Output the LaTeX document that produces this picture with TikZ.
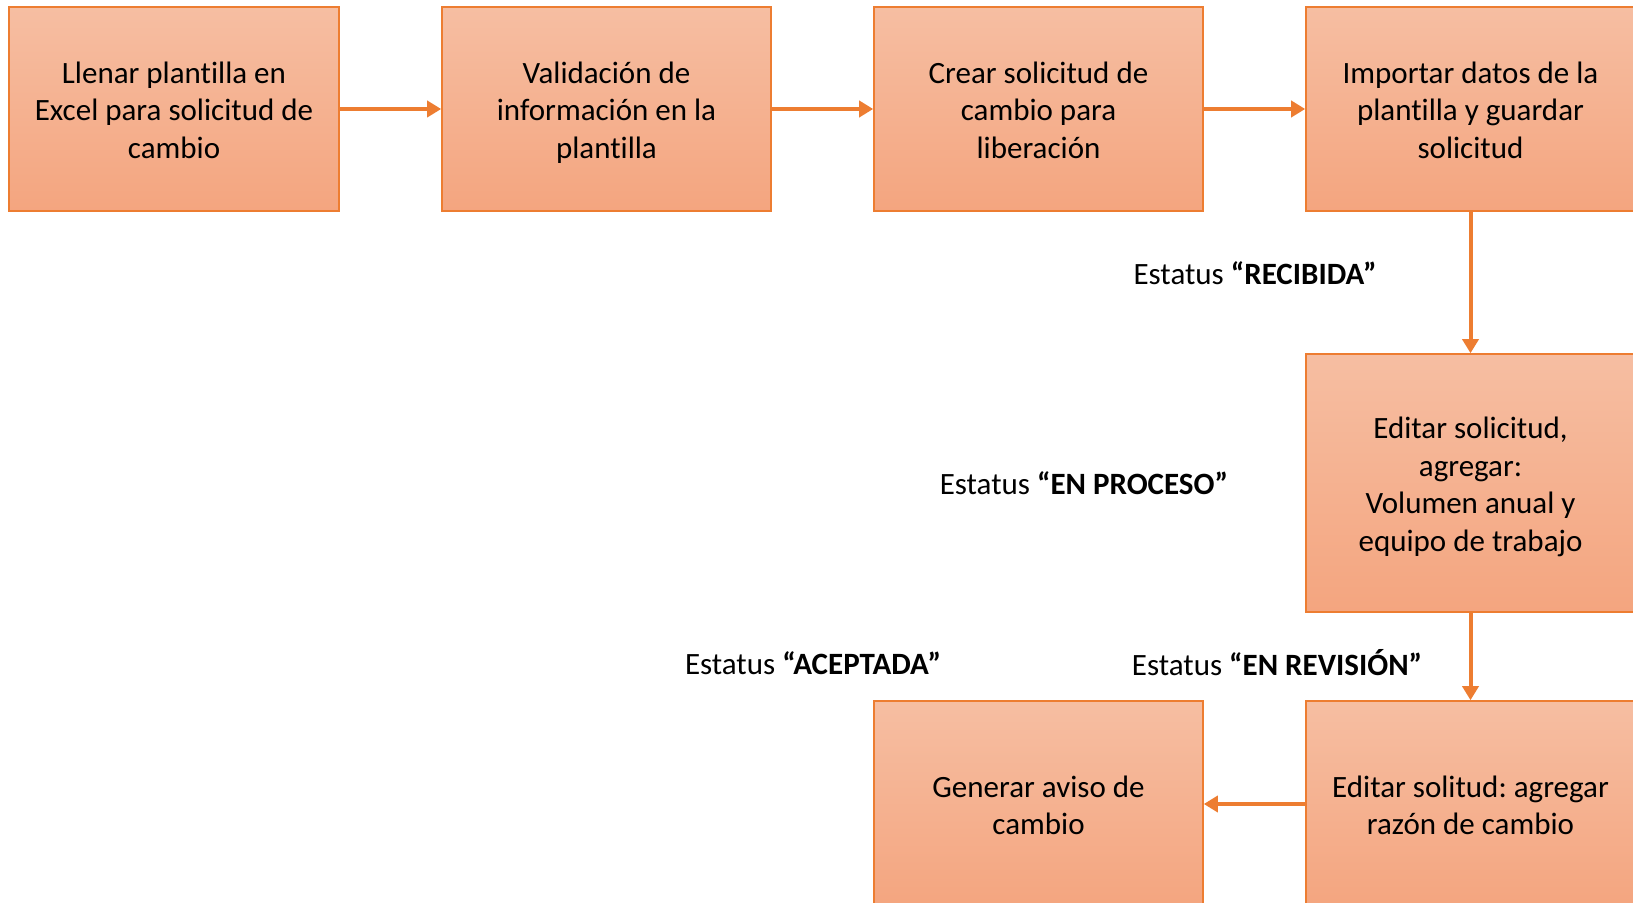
\documentclass[tikz,border=0pt]{standalone}
\usepackage{fontspec}
\setmainfont{Carlito}[Ligatures=NoCommon]
\usetikzlibrary{arrows.meta}
\definecolor{edge}{HTML}{ED7D31}
\definecolor{topc}{HTML}{F6BEA2}
\definecolor{botc}{HTML}{F4A57F}
\newcommand{\tstrut}{\rule{0pt}{16.5pt}}
\newcommand{\bstrut}{\rule[-4.5pt]{0pt}{4.5pt}}
\frenchspacing
\tikzset{
  box/.style={draw=edge, line width=0.8pt, top color=topc, bottom color=botc, align=center,
    font=\fontsize{15.5}{18.9}\selectfont\frenchspacing, inner sep=0pt},
  flow/.style={draw=edge, line width=2pt, -{Triangle[length=7pt,width=8pt]}},
  lbl/.style={font=\fontsize{15.5}{18.9}\selectfont, inner sep=0pt}
}
\begin{document}
\begin{tikzpicture}[x=0.5pt,y=-0.5pt]
\useasboundingbox (0,0) rectangle (1633,903);
\clip (0,0) rectangle (1633,903);
\fill[white] (0,0) rectangle (1633,903);
\node[box, minimum width=165pt, minimum height=102pt] (b1) at (174,109) {\tstrut Llenar plantilla en\\Excel para solicitud de\\cambio\bstrut};
\node[box, minimum width=164.5pt, minimum height=102pt] (b2) at (606.5,109) {\tstrut Validación de\\información en la\\plantilla\bstrut};
\node[box, minimum width=164.5pt, minimum height=102pt] (b3) at (1038.5,109) {\tstrut Crear solicitud de\\cambio para\\liberación\bstrut};
\node[box, minimum width=164.5pt, minimum height=102pt] (b4) at (1470.5,109) {\tstrut Importar datos de la\\plantilla y guardar\\solicitud\bstrut};
\node[box, minimum width=164.5pt, minimum height=129pt] (b5) at (1470.5,483) {\tstrut Editar solicitud,\\agregar:\\Volumen anual y\\equipo de trabajo\bstrut};
\node[box, minimum width=164.5pt, minimum height=103pt] (b6) at (1470.5,804) {\tstrut Editar solitud: agregar\\razón de cambio\bstrut};
\node[box, minimum width=164.5pt, minimum height=103pt] (b7) at (1038.5,804) {\tstrut Generar aviso de\\cambio\bstrut};
\draw[flow] (b1) -- (b2);
\draw[flow] (b2) -- (b3);
\draw[flow] (b3) -- (b4);
\draw[flow] (b4) -- (b5);
\draw[flow] (b5) -- (b6);
\draw[flow] (b6) -- (b7);
\node[lbl] (l1) at (1255,273) {Estatus \textbf{“RECIBIDA”}};
\node[lbl] (l2) at (1084,483) {Estatus \textbf{“EN PROCESO”}};
\node[lbl] (l3) at (813,663) {Estatus \textbf{“ACEPTADA”}};
\node[lbl] (l4) at (1277,663) {Estatus \textbf{“EN REVISIÓN”}};
\end{tikzpicture}
\end{document}
